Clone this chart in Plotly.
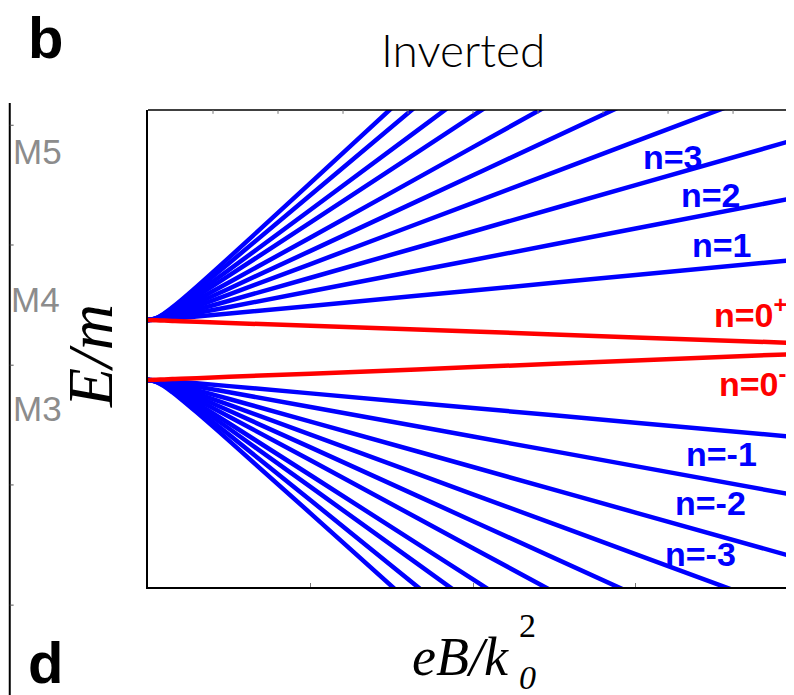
import plotly.graph_objects as go

# field axis samples (eB/k0^2)
x_field = [0, 0.05, 0.1, 0.15, 0.2, 0.3, 0.5, 1.0, 2.0, 3.0, 4.0]

# upper Landau levels n = 1..10 (E/m)
upper_levels = {
    1: [1, 1.007, 1.023, 1.043, 1.066, 1.114, 1.214, 1.470, 1.984, 2.498, 3.013],
    2: [1, 1.013, 1.046, 1.088, 1.134, 1.232, 1.436, 1.956, 3.002, 4.049, 5.096],
    3: [1, 1.020, 1.068, 1.129, 1.198, 1.342, 1.643, 2.409, 3.951, 5.495, 7.039],
    4: [1, 1.026, 1.090, 1.171, 1.262, 1.453, 1.851, 2.866, 4.907, 6.952, 8.997],
    5: [1, 1.032, 1.111, 1.212, 1.323, 1.560, 2.052, 3.305, 5.826, 8.351, 10.88],
    6: [1, 1.038, 1.132, 1.253, 1.386, 1.669, 2.256, 3.752, 6.762, 9.777, 12.79],
    7: [1, 1.045, 1.156, 1.299, 1.456, 1.790, 2.484, 4.252, 7.810, 11.37, 14.94],
    8: [1, 1.051, 1.177, 1.338, 1.516, 1.893, 2.677, 4.675, 8.697, 12.72, 16.75],
    9: [1, 1.058, 1.200, 1.383, 1.584, 2.012, 2.900, 5.164, 9.720, 14.28, 18.85],
    10: [1, 1.064, 1.219, 1.420, 1.641, 2.110, 3.085, 5.569, 10.57, 15.57, 20.58],
}

# lower Landau levels n = -1..-10 (E/m)
lower_levels = {
    -1: [-1, -1.006, -1.021, -1.041, -1.063, -1.108, -1.204, -1.446, -1.934, -2.423, -2.911],
    -2: [-1, -1.013, -1.043, -1.083, -1.126, -1.219, -1.411, -1.900, -2.885, -3.871, -4.858],
    -3: [-1, -1.019, -1.067, -1.127, -1.194, -1.337, -1.632, -2.385, -3.901, -5.419, -6.938],
    -4: [-1, -1.025, -1.087, -1.167, -1.255, -1.442, -1.830, -2.819, -4.810, -6.804, -8.798],
    -5: [-1, -1.031, -1.108, -1.207, -1.315, -1.546, -2.026, -3.247, -5.706, -8.168, -10.63],
    -6: [-1, -1.037, -1.129, -1.246, -1.376, -1.650, -2.222, -3.677, -6.605, -9.538, -12.47],
    -7: [-1, -1.044, -1.153, -1.292, -1.446, -1.771, -2.449, -4.175, -7.648, -11.13, -14.61],
    -8: [-1, -1.050, -1.171, -1.327, -1.500, -1.866, -2.626, -4.563, -8.462, -12.37, -16.27],
    -9: [-1, -1.056, -1.193, -1.368, -1.563, -1.974, -2.829, -5.008, -9.394, -13.79, -18.18],
    -10: [-1, -1.062, -1.213, -1.408, -1.624, -2.080, -3.028, -5.444, -10.31, -15.18, -20.05],
}

# zeroth levels
level_0_plus = [1, 0.99, 0.98, 0.97, 0.96, 0.94, 0.90, 0.81, 0.62, 0.42, 0.23]
level_0_minus = [-1, -0.99, -0.98, -0.97, -0.96, -0.94, -0.89, -0.79, -0.57, -0.35, -0.13]

top_ticks = [0.4, 0.8, 1.2, 1.6, 2.0, 2.4, 2.8, 3.2, 3.6]
bottom_ticks = [1, 2, 3]

level_labels = [
    ("n=3", 0.8127, 0.9015, "blue"),
    ("n=2", 0.8715, 0.8218, "blue"),
    ("n=1", 0.8885, 0.7170, "blue"),
    ("n=0<sup>+</sup>", 0.932, 0.575, "red"),
    ("n=0<sup>-</sup>", 0.936, 0.430, "red"),
    ("n=-1", 0.8885, 0.2788, "blue"),
    ("n=-2", 0.8700, 0.1760, "blue"),
    ("n=-3", 0.8560, 0.0692, "blue"),
]

BLUE = "#0000FF"
RED = "#FF0000"
X_MAX = 3.975
Y_MIN, Y_MAX = -7.9, 8.0

fig = go.Figure()
for n, ys in upper_levels.items():
    fig.add_trace(go.Scatter(x=x_field, y=ys, mode="lines", line=dict(color=BLUE, width=4.5, shape="spline"),
                             showlegend=False, hoverinfo="skip"))
for n, ys in lower_levels.items():
    fig.add_trace(go.Scatter(x=x_field, y=ys, mode="lines", line=dict(color=BLUE, width=4.5, shape="spline"),
                             showlegend=False, hoverinfo="skip"))
for ys in (level_0_plus, level_0_minus):
    fig.add_trace(go.Scatter(x=x_field, y=ys, mode="lines", line=dict(color=RED, width=4.5, shape="spline"),
                             showlegend=False, hoverinfo="skip"))

shapes = []
# top border
shapes.append(dict(type="line", xref="paper", yref="paper", x0=0, x1=1.01, y0=1, y1=1,
                   line=dict(color="black", width=1.5)))
for t in top_ticks:
    shapes.append(dict(type="line", xref="x", yref="paper", x0=t, x1=t, y0=1, y1=0.992,
                       line=dict(color="#777777", width=1)))
# left neighbour panel border
LX = -0.2140
shapes.append(dict(type="line", xref="paper", yref="paper", x0=LX, x1=LX, y0=1.0147, y1=-0.25,
                   line=dict(color="black", width=2)))
for yp in [0.968, 0.717, 0.465, 0.214, -0.038]:
    shapes.append(dict(type="line", xref="paper", yref="paper", x0=LX, x1=LX + 0.006, y0=yp, y1=yp,
                       line=dict(color="#555555", width=1)))

C = dict(xref="paper", yref="paper", showarrow=False, xanchor="center", yanchor="middle")

annotations = []
for text, xp, yp, col in level_labels:
    annotations.append(dict(text=f"<b>{text}</b>", x=xp, y=yp, **C,
                            font=dict(family="Liberation Sans, Arial", size=34,
                                      color=BLUE if col == "blue" else RED)))

annotations += [
    dict(text="Inverted", x=0.4876, y=1.126, **C,
         font=dict(family="Lato, Noto Sans", size=46, color="black", weight=300)),
    dict(text="<b>b</b>", x=-0.158, y=1.152, **C,
         font=dict(family="Liberation Sans, Arial", size=58, color="black")),
    dict(text="<b>d</b>", x=-0.1594, y=-0.158, **C,
         font=dict(family="Liberation Sans, Arial", size=58, color="black")),
    dict(text="M5", x=-0.1718, y=0.914, **C,
         font=dict(family="Liberation Sans, Arial", size=35, color="#8C8C8C")),
    dict(text="M4", x=-0.1734, y=0.6017, **C,
         font=dict(family="Liberation Sans, Arial", size=35, color="#8C8C8C")),
    dict(text="M3", x=-0.1718, y=0.375, **C,
         font=dict(family="Liberation Sans, Arial", size=35, color="#8C8C8C")),
    dict(text="<i>E/m</i>", x=-0.0898, y=0.484, textangle=-90, **C,
         font=dict(family="Liberation Serif, Times New Roman", size=64, color="black")),
    dict(text="<i>eB/k</i>", x=0.483, y=-0.1468, **C,
         font=dict(family="Liberation Serif, Times New Roman", size=54, color="black")),
    dict(text="2", x=0.5867, y=-0.0797, **C,
         font=dict(family="Liberation Serif, Times New Roman", size=34, color="black")),
    dict(text="<i>0</i>", x=0.5867, y=-0.1887, **C,
         font=dict(family="Liberation Serif, Times New Roman", size=34, color="black")),
]

fig.update_layout(
    width=786, height=687,
    margin=dict(l=140, r=0, t=102, b=108, autoexpand=False),
    paper_bgcolor="white", plot_bgcolor="white",
    shapes=shapes, annotations=annotations,
    xaxis=dict(range=[0, X_MAX], showgrid=False, zeroline=False, showline=True, linecolor="black",
               linewidth=1.5, ticks="inside", tickvals=bottom_ticks, ticklen=4, tickcolor="#777777",
               showticklabels=False),
    yaxis=dict(range=[Y_MIN, Y_MAX], showgrid=False, zeroline=False, showline=True, linecolor="black",
               linewidth=1.5, ticks="", showticklabels=False),
)

fig.write_html("out.html")
